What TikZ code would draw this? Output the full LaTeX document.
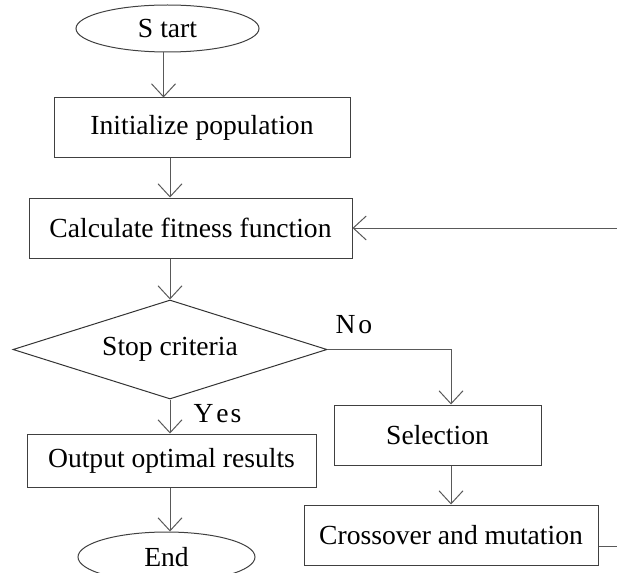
\documentclass[tikz,border=0pt]{standalone}
\usepackage{fontspec}
\setmainfont{Liberation Serif}
\usetikzlibrary{shapes.geometric,arrows.meta}
\begin{document}
\begin{tikzpicture}[x=1pt,y=-1pt,
  font=\fontsize{27.6}{32}\selectfont,
  line width=1pt,
  box/.style={draw=black!75, rectangle, inner sep=0pt},
  term/.style={draw=black!75, ellipse, inner sep=0pt},
  decision/.style={draw=black!80, diamond, aspect=3.17, inner sep=0pt},
  flow/.style={draw=black!65, -{Straight Barb[length=13pt,width=24pt]}},
  lbl/.style={anchor=base west, inner sep=0pt}
]
\useasboundingbox (0,0) rectangle (617,572);
\clip (0,0) rectangle (617,572);

% main column
\node[term, minimum width=183pt, minimum height=47pt] (start) at (167.5,28.5) {S\kern7pt tart};
\node[box, minimum width=296pt, minimum height=59pt] (init) at (202,127.5) {Initialize population};
\node[box, minimum width=323pt, minimum height=60pt] (calc) at (190.5,228) {Calculate fitness function};
\node[decision, minimum width=314pt, minimum height=99pt] (dia) at (170,349.5) {Stop criteria};
\node[box, minimum width=289pt, minimum height=53pt] (out) at (171.5,460.5) {Output optimal results};
\node[term, minimum width=177pt, minimum height=50pt] (end) at (166.5,557) {End};

% loop column
\node[box, minimum width=207pt, minimum height=60pt] (sel) at (437.5,435) {Selection};
\node[box, minimum width=294pt, minimum height=60pt] (cross) at (451,535) {Crossover and mutation};

% branch labels
\node[lbl] (no) at (335,333) {N\kern3pt o};
\node[lbl] (yes) at (193,422) {Y\kern3pt e\kern2pt s};

% connectors
\coordinate (spine) at (170,0);
\draw[flow] ([xshift=-4pt]start.south) -- ([xshift=-4pt]start.south |- init.north);
\draw[flow] (init.south -| spine) -- (calc.north -| spine);
\draw[flow] (calc.south -| spine) -- (dia.north);
\draw[flow] (dia.south) -- (out.north -| dia.south);
\draw[flow] (out.south -| spine) -- (end.north -| spine);
\draw[flow] (dia.east) -| (sel.north -| cross.north);
\draw[flow] (sel.south -| cross.north) -- (cross.north);
\draw[flow] ([yshift=-11pt]cross.east) -- ++(40,0) |- (calc.east);
\end{tikzpicture}
\end{document}
